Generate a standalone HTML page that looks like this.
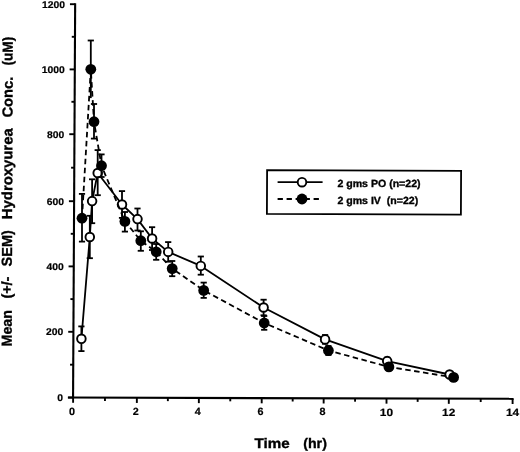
<!DOCTYPE html>
<html><head><meta charset="utf-8"><style>
html,body{margin:0;padding:0;background:#fff;}
svg{display:block;will-change:transform;}
text{font-family:"Liberation Sans", sans-serif;font-weight:bold;fill:#000;text-rendering:geometricPrecision;stroke:#000;stroke-width:0.35px;}
.tl{font-size:9.8px;stroke-width:0.2px;}
</style></head><body>
<svg width="520" height="452" viewBox="0 0 520 452">

<line x1="75.16" y1="3.3" x2="73.06" y2="398.6" stroke="#000" stroke-width="2.1"/>
<line x1="68.07" y1="397.56" x2="513.6" y2="398.83" stroke="#000" stroke-width="2.1"/>
<line x1="67.87" y1="397.57" x2="73.07" y2="397.57" stroke="#000" stroke-width="1.9"/>
<text x="62.97" y="401.07" text-anchor="end" class="tl" textLength="5.75" lengthAdjust="spacingAndGlyphs">0</text>
<line x1="68.22" y1="331.80" x2="73.42" y2="331.80" stroke="#000" stroke-width="1.9"/>
<text x="63.32" y="335.30" text-anchor="end" class="tl" textLength="17.25" lengthAdjust="spacingAndGlyphs">200</text>
<line x1="68.56" y1="266.40" x2="73.76" y2="266.40" stroke="#000" stroke-width="1.9"/>
<text x="63.66" y="269.90" text-anchor="end" class="tl" textLength="17.25" lengthAdjust="spacingAndGlyphs">400</text>
<line x1="68.91" y1="201.20" x2="74.11" y2="201.20" stroke="#000" stroke-width="1.9"/>
<text x="64.01" y="204.70" text-anchor="end" class="tl" textLength="17.25" lengthAdjust="spacingAndGlyphs">600</text>
<line x1="69.26" y1="134.20" x2="74.46" y2="134.20" stroke="#000" stroke-width="1.9"/>
<text x="64.36" y="137.70" text-anchor="end" class="tl" textLength="17.25" lengthAdjust="spacingAndGlyphs">800</text>
<line x1="69.61" y1="69.40" x2="74.81" y2="69.40" stroke="#000" stroke-width="1.9"/>
<text x="64.71" y="72.90" text-anchor="end" class="tl" textLength="23.00" lengthAdjust="spacingAndGlyphs">1000</text>
<line x1="69.95" y1="4.20" x2="75.15" y2="4.20" stroke="#000" stroke-width="1.9"/>
<text x="65.05" y="7.70" text-anchor="end" class="tl" textLength="23.00" lengthAdjust="spacingAndGlyphs">1200</text>
<line x1="70.04" y1="364.69" x2="73.24" y2="364.69" stroke="#000" stroke-width="1.9"/>
<line x1="70.39" y1="299.10" x2="73.59" y2="299.10" stroke="#000" stroke-width="1.9"/>
<line x1="70.74" y1="233.80" x2="73.94" y2="233.80" stroke="#000" stroke-width="1.9"/>
<line x1="71.09" y1="167.70" x2="74.29" y2="167.70" stroke="#000" stroke-width="1.9"/>
<line x1="71.43" y1="101.80" x2="74.63" y2="101.80" stroke="#000" stroke-width="1.9"/>
<line x1="71.78" y1="36.80" x2="74.98" y2="36.80" stroke="#000" stroke-width="1.9"/>
<line x1="73.10" y1="397.57" x2="73.10" y2="402.77" stroke="#000" stroke-width="1.9"/>
<text x="72.00" y="414.60" text-anchor="middle" class="tl" style="font-size:10.5px" textLength="6.00" lengthAdjust="spacingAndGlyphs">0</text>
<line x1="136.85" y1="397.75" x2="136.85" y2="402.95" stroke="#000" stroke-width="1.9"/>
<text x="135.75" y="414.78" text-anchor="middle" class="tl" style="font-size:10.5px" textLength="6.00" lengthAdjust="spacingAndGlyphs">2</text>
<line x1="198.85" y1="397.93" x2="198.85" y2="403.13" stroke="#000" stroke-width="1.9"/>
<text x="197.75" y="414.96" text-anchor="middle" class="tl" style="font-size:10.5px" textLength="6.00" lengthAdjust="spacingAndGlyphs">4</text>
<line x1="261.70" y1="398.11" x2="261.70" y2="403.31" stroke="#000" stroke-width="1.9"/>
<text x="260.60" y="415.14" text-anchor="middle" class="tl" style="font-size:10.5px" textLength="6.00" lengthAdjust="spacingAndGlyphs">6</text>
<line x1="323.65" y1="398.29" x2="323.65" y2="403.49" stroke="#000" stroke-width="1.9"/>
<text x="322.55" y="415.32" text-anchor="middle" class="tl" style="font-size:10.5px" textLength="6.00" lengthAdjust="spacingAndGlyphs">8</text>
<line x1="386.50" y1="398.47" x2="386.50" y2="403.67" stroke="#000" stroke-width="1.9"/>
<text x="386.40" y="415.50" text-anchor="middle" class="tl" style="font-size:10.5px" textLength="13.20" lengthAdjust="spacingAndGlyphs">10</text>
<line x1="448.80" y1="398.64" x2="448.80" y2="403.84" stroke="#000" stroke-width="1.9"/>
<text x="448.70" y="415.67" text-anchor="middle" class="tl" style="font-size:10.5px" textLength="13.20" lengthAdjust="spacingAndGlyphs">12</text>
<line x1="512.60" y1="398.83" x2="512.60" y2="404.03" stroke="#000" stroke-width="1.9"/>
<text x="512.50" y="415.86" text-anchor="middle" class="tl" style="font-size:10.5px" textLength="13.20" lengthAdjust="spacingAndGlyphs">14</text>
<line x1="104.97" y1="397.66" x2="104.97" y2="400.96" stroke="#000" stroke-width="1.9"/>
<line x1="167.85" y1="397.84" x2="167.85" y2="401.14" stroke="#000" stroke-width="1.9"/>
<line x1="230.27" y1="398.02" x2="230.27" y2="401.32" stroke="#000" stroke-width="1.9"/>
<line x1="292.67" y1="398.20" x2="292.67" y2="401.50" stroke="#000" stroke-width="1.9"/>
<line x1="355.07" y1="398.38" x2="355.07" y2="401.68" stroke="#000" stroke-width="1.9"/>
<line x1="417.65" y1="398.56" x2="417.65" y2="401.86" stroke="#000" stroke-width="1.9"/>
<line x1="480.70" y1="398.74" x2="480.70" y2="402.04" stroke="#000" stroke-width="1.9"/>
<polyline points="81.4,338.8 89.8,237.0 92.1,201.1 97.7,173.0 122.0,204.5 137.5,219.1 152.1,238.5 168.2,251.9 200.8,265.9 263.6,307.5 325.1,339.4 387.2,361.1 449.6,374.5" fill="none" stroke="#000" stroke-width="1.8" stroke-linejoin="round"/>
<g stroke="#000" stroke-width="1.8"><line x1="81.4" y1="326.4" x2="81.4" y2="351.1"/><line x1="78.30" y1="326.4" x2="84.50" y2="326.4"/><line x1="78.30" y1="351.1" x2="84.50" y2="351.1"/><line x1="89.8" y1="215.8" x2="89.8" y2="258.2"/><line x1="86.70" y1="215.8" x2="92.90" y2="215.8"/><line x1="86.70" y1="258.2" x2="92.90" y2="258.2"/><line x1="92.1" y1="179.3" x2="92.1" y2="223.2"/><line x1="89.00" y1="179.3" x2="95.20" y2="179.3"/><line x1="89.00" y1="223.2" x2="95.20" y2="223.2"/><line x1="97.7" y1="150.1" x2="97.7" y2="195.2"/><line x1="94.60" y1="150.1" x2="100.80" y2="150.1"/><line x1="94.60" y1="195.2" x2="100.80" y2="195.2"/><line x1="122.0" y1="191.1" x2="122.0" y2="217.9"/><line x1="118.90" y1="191.1" x2="125.10" y2="191.1"/><line x1="118.90" y1="217.9" x2="125.10" y2="217.9"/><line x1="137.5" y1="208.5" x2="137.5" y2="230.5"/><line x1="134.40" y1="208.5" x2="140.60" y2="208.5"/><line x1="134.40" y1="230.5" x2="140.60" y2="230.5"/><line x1="152.1" y1="227.2" x2="152.1" y2="250.0"/><line x1="149.00" y1="227.2" x2="155.20" y2="227.2"/><line x1="149.00" y1="250.0" x2="155.20" y2="250.0"/><line x1="168.2" y1="242.1" x2="168.2" y2="261.7"/><line x1="165.10" y1="242.1" x2="171.30" y2="242.1"/><line x1="165.10" y1="261.7" x2="171.30" y2="261.7"/><line x1="200.8" y1="256.5" x2="200.8" y2="274.7"/><line x1="197.70" y1="256.5" x2="203.90" y2="256.5"/><line x1="197.70" y1="274.7" x2="203.90" y2="274.7"/><line x1="263.6" y1="299.7" x2="263.6" y2="315.3"/><line x1="260.50" y1="299.7" x2="266.70" y2="299.7"/><line x1="260.50" y1="315.3" x2="266.70" y2="315.3"/><line x1="325.1" y1="335.0" x2="325.1" y2="343.8"/><line x1="322.00" y1="335.0" x2="328.20" y2="335.0"/><line x1="322.00" y1="343.8" x2="328.20" y2="343.8"/><line x1="387.2" y1="357.6" x2="387.2" y2="364.6"/><line x1="384.10" y1="357.6" x2="390.30" y2="357.6"/><line x1="384.10" y1="364.6" x2="390.30" y2="364.6"/><line x1="449.6" y1="372.4" x2="449.6" y2="376.6"/><line x1="446.50" y1="372.4" x2="452.70" y2="372.4"/><line x1="446.50" y1="376.6" x2="452.70" y2="376.6"/></g>
<g fill="#fff" stroke="#000" stroke-width="1.9"><circle cx="81.4" cy="338.8" r="4.3"/><circle cx="89.8" cy="237.0" r="4.3"/><circle cx="92.1" cy="201.1" r="4.3"/><circle cx="97.7" cy="173.0" r="4.3"/><circle cx="122.0" cy="204.5" r="4.3"/><circle cx="137.5" cy="219.1" r="4.3"/><circle cx="152.1" cy="238.5" r="4.3"/><circle cx="168.2" cy="251.9" r="4.3"/><circle cx="200.8" cy="265.9" r="4.3"/><circle cx="263.6" cy="307.5" r="4.3"/><circle cx="325.1" cy="339.4" r="4.3"/><circle cx="387.2" cy="361.1" r="4.3"/><circle cx="449.6" cy="374.5" r="4.3"/></g>
<polyline points="82.0,218.2 90.8,69.3 94.0,121.7 101.5,165.7 124.9,221.4 140.8,240.7 156.2,251.8 172.2,268.6 203.7,290.4 264.2,323.0 328.4,350.5 388.9,366.9 453.6,377.4" fill="none" stroke="#000" stroke-width="1.8" stroke-dasharray="5.5 3.5"/>
<g stroke="#000" stroke-width="1.8"><line x1="82.0" y1="193.9" x2="82.0" y2="241.6"/><line x1="78.90" y1="193.9" x2="85.10" y2="193.9"/><line x1="78.90" y1="241.6" x2="85.10" y2="241.6"/><line x1="90.8" y1="40.5" x2="90.8" y2="98.1"/><line x1="87.70" y1="40.5" x2="93.90" y2="40.5"/><line x1="94.0" y1="104.0" x2="94.0" y2="138.6"/><line x1="90.90" y1="104.0" x2="97.10" y2="104.0"/><line x1="90.90" y1="138.6" x2="97.10" y2="138.6"/><line x1="101.5" y1="154.4" x2="101.5" y2="177.0"/><line x1="98.40" y1="154.4" x2="104.60" y2="154.4"/><line x1="98.40" y1="177.0" x2="104.60" y2="177.0"/><line x1="124.9" y1="212.0" x2="124.9" y2="231.6"/><line x1="121.80" y1="212.0" x2="128.00" y2="212.0"/><line x1="121.80" y1="231.6" x2="128.00" y2="231.6"/><line x1="140.8" y1="231.3" x2="140.8" y2="250.8"/><line x1="137.70" y1="231.3" x2="143.90" y2="231.3"/><line x1="137.70" y1="250.8" x2="143.90" y2="250.8"/><line x1="156.2" y1="244.0" x2="156.2" y2="259.8"/><line x1="153.10" y1="244.0" x2="159.30" y2="244.0"/><line x1="153.10" y1="259.8" x2="159.30" y2="259.8"/><line x1="172.2" y1="261.0" x2="172.2" y2="276.2"/><line x1="169.10" y1="261.0" x2="175.30" y2="261.0"/><line x1="169.10" y1="276.2" x2="175.30" y2="276.2"/><line x1="203.7" y1="282.6" x2="203.7" y2="297.9"/><line x1="200.60" y1="282.6" x2="206.80" y2="282.6"/><line x1="200.60" y1="297.9" x2="206.80" y2="297.9"/><line x1="264.2" y1="316.0" x2="264.2" y2="329.8"/><line x1="261.10" y1="316.0" x2="267.30" y2="316.0"/><line x1="261.10" y1="329.8" x2="267.30" y2="329.8"/><line x1="328.4" y1="346.0" x2="328.4" y2="355.0"/><line x1="325.30" y1="346.0" x2="331.50" y2="346.0"/><line x1="325.30" y1="355.0" x2="331.50" y2="355.0"/><line x1="388.9" y1="363.5" x2="388.9" y2="370.3"/><line x1="385.80" y1="363.5" x2="392.00" y2="363.5"/><line x1="385.80" y1="370.3" x2="392.00" y2="370.3"/><line x1="453.6" y1="374.7" x2="453.6" y2="380.1"/><line x1="450.50" y1="374.7" x2="456.70" y2="374.7"/><line x1="450.50" y1="380.1" x2="456.70" y2="380.1"/></g>
<g fill="#000"><circle cx="82.0" cy="218.2" r="5.4"/><circle cx="90.8" cy="69.3" r="5.4"/><circle cx="94.0" cy="121.7" r="5.4"/><circle cx="101.5" cy="165.7" r="5.4"/><circle cx="124.9" cy="221.4" r="5.4"/><circle cx="140.8" cy="240.7" r="5.4"/><circle cx="156.2" cy="251.8" r="5.4"/><circle cx="172.2" cy="268.6" r="5.4"/><circle cx="203.7" cy="290.4" r="5.4"/><circle cx="264.2" cy="323.0" r="5.4"/><circle cx="328.4" cy="350.5" r="5.4"/><circle cx="388.9" cy="366.9" r="5.4"/><circle cx="453.6" cy="377.4" r="5.4"/></g>
<polygon points="267.1,170.1 461.1,170.9 460.9,214.6 266.9,213.9" fill="none" stroke="#000" stroke-width="1.8" stroke-linejoin="miter"/>
<line x1="277.6" y1="182.1" x2="322.6" y2="182.1" stroke="#000" stroke-width="1.8"/>
<circle cx="302" cy="182.2" r="4.3" fill="#fff" stroke="#000" stroke-width="1.9"/>
<line x1="277.6" y1="199" x2="319.4" y2="199" stroke="#000" stroke-width="1.8" stroke-dasharray="5.3 3.7"/>
<circle cx="302" cy="199" r="5.4" fill="#000"/>
<text x="337.40" y="187.00" style="font-size:10.4px" textLength="83.20" lengthAdjust="spacingAndGlyphs" xml:space="preserve">2 gms PO (n=22)</text>
<text x="337.40" y="203.70" style="font-size:10.4px" textLength="80.80" lengthAdjust="spacingAndGlyphs" xml:space="preserve">2 gms IV  (n=22)</text>
<text x="254.60" y="448.30" style="font-size:13.8px" textLength="35.10" lengthAdjust="spacingAndGlyphs" xml:space="preserve">Time</text>
<text x="303.20" y="448.30" style="font-size:13.8px" textLength="23.70" lengthAdjust="spacingAndGlyphs" xml:space="preserve">(hr)</text>
<text transform="translate(11.70,346.40) rotate(-89.7)" style="font-size:14.5px" textLength="36.30" lengthAdjust="spacingAndGlyphs" xml:space="preserve">Mean</text>
<text transform="translate(11.75,298.60) rotate(-89.7)" style="font-size:14.5px" textLength="22.00" lengthAdjust="spacingAndGlyphs" xml:space="preserve">(+/-</text>
<text transform="translate(11.85,266.40) rotate(-89.7)" style="font-size:14.5px" textLength="36.20" lengthAdjust="spacingAndGlyphs" xml:space="preserve">SEM)</text>
<text transform="translate(12.00,219.20) rotate(-89.7)" style="font-size:14.5px" textLength="90.90" lengthAdjust="spacingAndGlyphs" xml:space="preserve">Hydroxyurea</text>
<text transform="translate(12.50,117.60) rotate(-89.7)" style="font-size:14.5px" textLength="40.90" lengthAdjust="spacingAndGlyphs" xml:space="preserve">Conc.</text>
<text transform="translate(12.60,65.50) rotate(-89.7)" style="font-size:14.5px" textLength="28.70" lengthAdjust="spacingAndGlyphs" xml:space="preserve">(uM)</text>
</svg>
</body></html>
